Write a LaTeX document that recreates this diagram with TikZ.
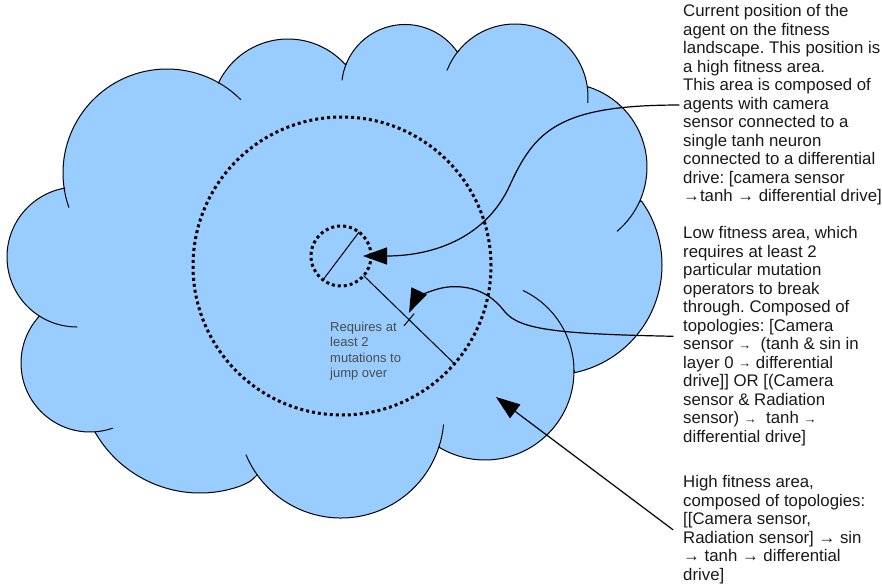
\documentclass[tikz,border=0pt]{standalone}
\usepackage{fontspec}
\setmainfont{Liberation Sans}
\usetikzlibrary{arrows.meta}
\definecolor{skyfill}{HTML}{99CCFF}
\newcommand\smallto{\raisebox{0.5pt}{\fontsize{13}{13}\selectfont →}}
\frenchspacing
\begin{document}
\begin{tikzpicture}[x=1pt,y=-1pt,line join=round,line cap=round,
 bump/.style={draw=black,line width=1pt},
 ring/.style={circle,draw=black,line width=3pt,line cap=butt,dash pattern=on 3pt off 3pt,inner sep=0pt,outer sep=0pt},
 note/.style={anchor=north west,align=left,inner sep=4pt,text=black!90,font=\fontsize{16.8}{18.5}\selectfont},
 pointer/.style={line width=1.2pt,-{Triangle[length=24pt,width=17pt]}}]
 \useasboundingbox (0,0) rectangle (882,585);
 % centres of the cloud bumps, clockwise from the top left
 \coordinate (cA) at (167,173); \coordinate (cT1) at (288,116);
 \coordinate (cT2) at (405,88); \coordinate (cT3) at (515,97);
 \coordinate (cR2) at (563,167); \coordinate (cR1) at (552,265);
 \coordinate (cB3) at (485,371); \coordinate (cB2) at (341,415);
 \coordinate (cB1) at (200,372); \coordinate (cL2) at (90,363);
 \coordinate (cL1) at (77,257);
 \filldraw[bump,fill=skyfill]
  ([shift={(170.5:104)}]cA) arc[start angle=170.5,end angle=299.5,radius=104]
  -- ([shift={(205.2:77)}]cT1) arc[start angle=205.2,end angle=318.1,radius=77]
  -- ([shift={(203.3:63.5)}]cT2) arc[start angle=203.3,end angle=325.8,radius=63.5]
  -- ([shift={(220:73)}]cT3) arc[start angle=220,end angle=353,radius=73]
  -- ([shift={(287.4:84)}]cR2) arc[start angle=287.4,end angle=384.4,radius=84]
  -- ([shift={(-35.6:110)}]cR1) arc[start angle=-35.6,end angle=78.2,radius=110]
  -- ([shift={(-0.6:89)}]cB3) arc[start angle=-0.6,end angle=120.6,radius=89]
  -- ([shift={(17.9:103)}]cB2) arc[start angle=17.9,end angle=144.5,radius=103]
  .. controls (250,482) .. ([shift={(71:121)}]cB1) arc[start angle=71,end angle=150.3,radius=121]
  -- ([shift={(85.9:69)}]cL2) arc[start angle=85.9,end angle=221.5,radius=69]
  -- ([shift={(123:70)}]cL1) arc[start angle=123,end angle=259.8,radius=70]
  -- cycle;
 % inner ends of the bumps
 \foreach \c/\s/\e/\r in {cA/160.7/170.5/104, cA/299.5/315/104, cT2/187.2/203.3/63.5,
   cT3/201.5/220/73, cT3/353/364.5/73, cR2/384.4/409.8/84, cB3/-64.6/-0.6/89,
   cB2/5.5/17.9/103, cB2/144.5/157.2/103, cL2/71/85.9/69, cL1/90/123/70}
  \draw[bump] ([shift={(\s:\r)}]\c) arc[start angle=\s,end angle=\e,radius=\r];

 \node[ring,minimum size=298pt] (basin) at (342,266) {};
 \node[ring,minimum size=60pt] (here) at (341,256) {};
 \draw[bump] (here.53) -- (here.233);
 \draw[bump] (here.-41) -- coordinate (mid) (basin.-41);
 \draw[bump] (mid) +(-5,6) -- +(5,-6);
 \node[anchor=north west,align=left,inner sep=2pt,text=black!70,font=\fontsize{13}{15.3}\selectfont] (jump) at (328,320)
  {Requires at\\least 2\\mutations to\\jump over};

 \node[note] (current) at (679,0.5) {Current position of the\\agent on the fitness\\landscape. This position is\\a high fitness area.\\This area is composed of\\agents with camera\\sensor connected to a\\single tanh neuron\\connected to a differential\\drive: [camera sensor\\→tanh → differential drive]};
 \node[note] (low) at (679,222.5) {Low fitness area, which\\requires at least 2\\particular mutation\\operators to break\\through. Composed of\\topologies: [Camera\\sensor \smallto~ (tanh \& sin in\\layer 0 \smallto{} differential\\drive]] OR [(Camera\\sensor \& Radiation\\sensor) \smallto~ tanh \smallto\\differential drive]};
 \node[note] (high) at (679,471.5) {High fitness area,\\composed of topologies:\\{}[[Camera sensor,\\Radiation sensor] → sin\\→ tanh → differential\\drive]};
 \coordinate (ring) at (496,397);

 \draw[pointer] (current.west) .. controls (560,105) and (535,130) .. (510,185)
  .. controls (485,240) and (430,256) .. ([xshift=-8pt]here.east);
 \draw[pointer] ([xshift=-6pt]low.west) .. controls (560,334) and (520,330) .. (505,312)
  .. controls (490,292) and (470,285) .. (448,287)
  .. controls (430,289) and (415,300) .. ([yshift=7pt]mid);
 \draw[pointer] ([xshift=-6pt]high.west) -- (ring);
\end{tikzpicture}
\end{document}
